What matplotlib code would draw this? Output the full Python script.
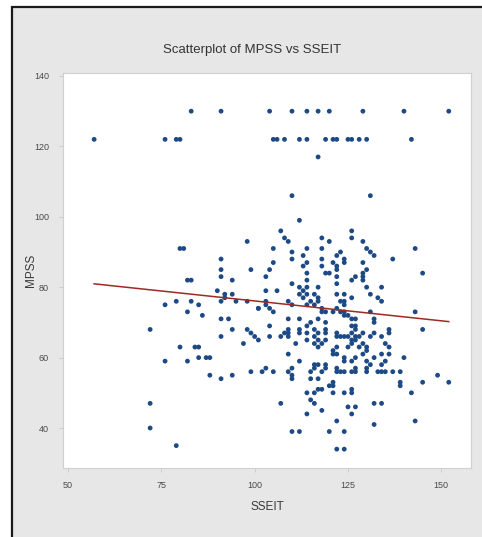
import matplotlib.pyplot as plt
from matplotlib.patches import Rectangle
import numpy as np

plt.rcParams['font.family'] = ['Liberation Sans', 'DejaVu Sans']

# SSEIT / MPSS pairs, grouped roughly by band of MPSS
sseit_top = [57, 76, 79, 80, 105, 106, 108, 112, 114, 119, 121, 122, 125, 126, 128, 130, 142,
             83, 91, 104, 110, 114, 117, 120, 129, 140, 152,
             117, 110, 131]
mpss_top = [122, 122, 122, 122, 122, 122, 122, 122, 122, 122, 122, 122, 122, 122, 122, 122, 122,
            130, 130, 130, 130, 130, 130, 130, 130, 130, 130,
            117, 106, 106]

sseit_upper = [112, 107, 126, 108, 109, 98, 80, 81, 91, 105, 110, 114, 118, 120, 118, 126, 129,
               130, 131, 132, 143, 137, 110, 113, 114, 113, 118, 118, 122, 123, 124, 124, 122,
               121, 122, 105, 91, 99, 129, 130, 145]
mpss_upper = [99, 96, 96, 94, 93, 93, 91, 91, 88, 91, 90, 91, 94, 93, 91, 94, 93,
              91, 90, 89, 91, 88, 88, 89, 87, 86, 88, 86, 89, 90, 88, 87, 86,
              87, 85, 87, 85, 85, 87, 85, 84]

sseit_mid = [91, 82, 83, 94, 104, 103, 114, 114, 119, 120, 122, 122, 126, 127, 129, 129, 129,
             130, 134, 131, 133, 134, 126, 90, 92, 94, 103, 106, 110, 112, 113, 114, 114,
             117, 116, 117, 117, 115, 112, 113, 114, 116, 122, 124, 123, 124, 109, 110, 91,
             92, 95, 98, 101, 103, 76, 79, 83, 85, 82, 86]
mpss_mid = [83, 82, 82, 82, 85, 83, 84, 82, 84, 84, 83, 81, 82, 83, 83, 84, 82,
            80, 80, 78, 77, 76, 77, 79, 78, 78, 79, 79, 81, 80, 79, 78, 80,
            80, 78, 77, 76, 76, 78, 77, 75, 75, 78, 78, 76, 76, 76, 75, 76,
            77, 76, 76, 74, 76, 75, 76, 76, 75, 73, 72]

sseit_low = [103, 104, 105, 101, 118, 119, 121, 122, 123, 124, 126, 127, 127, 126, 127, 131, 132,
             132, 136, 109, 112, 114, 115, 119, 119, 116, 117, 112, 112, 108, 109, 107, 104,
             104, 128, 126, 132, 134, 122, 124, 91, 93, 72, 94, 98, 99, 100, 101, 97,
             91, 143, 145, 124, 124, 125, 117, 118]
mpss_low = [75, 74, 73, 74, 74, 73, 73, 74, 73, 72, 71, 71, 69, 69, 68, 73, 71,
            70, 68, 71, 71, 69, 70, 70, 68, 68, 67, 68, 67, 67, 68, 66, 69,
            66, 66, 67, 67, 66, 66, 66, 71, 71, 68, 68, 68, 67, 66, 65, 64,
            66, 73, 68, 75, 73, 72, 71, 73]

sseit_lower = [109, 109, 114, 116, 117, 116, 118, 119, 122, 123, 125, 126, 129, 127, 129, 131, 136,
               136, 136, 111, 109, 112, 121, 122, 124, 127, 129, 130, 134, 134, 117, 128, 130,
               127, 114, 119, 122, 125, 126, 121, 124, 126, 130, 132, 135, 135, 140, 80, 84,
               85, 76, 82, 85, 87, 88]
mpss_lower = [67, 66, 67, 66, 65, 64, 64, 67, 67, 66, 66, 64, 64, 66, 67, 66, 67,
              63, 61, 64, 61, 59, 62, 61, 59, 60, 61, 59, 61, 58, 63, 63, 63,
              65, 65, 65, 63, 63, 65, 61, 60, 59, 62, 60, 59, 64, 60, 63, 63,
              63, 59, 59, 60, 60, 60]

sseit_bottom = [102, 105, 110, 110, 110, 115, 116, 116, 117, 118, 119, 119, 122, 123, 122, 124, 126,
                127, 127, 130, 130, 131, 133, 134, 135, 137, 139, 115, 117, 121, 139, 139, 142,
                145, 149, 152, 88, 91, 94, 99, 103, 114, 116, 117, 118, 120, 121, 121, 124,
                126, 126, 115, 109,
                72, 72, 79, 107, 114, 110, 112, 118, 122, 120, 124, 122, 124, 125, 127, 126,
                132, 132, 134, 143, 116]
mpss_bottom = [56, 56, 55, 54, 57, 56, 57, 58, 58, 56, 58, 57, 56, 56, 57, 56, 56,
               56, 57, 56, 57, 58, 56, 56, 56, 56, 56, 54, 54, 53, 53, 52, 50,
               53, 55, 53, 55, 54, 55, 56, 57, 50, 50, 51, 51, 52, 52, 50, 50,
               51, 50, 48, 56,
               47, 40, 35, 47, 44, 39, 39, 45, 42, 39, 39, 34, 34, 46, 46, 44,
               41, 47, 47, 42, 47]

sseit = np.array(sseit_top + sseit_upper + sseit_mid + sseit_low + sseit_lower + sseit_bottom)
mpss = np.array(mpss_top + mpss_upper + mpss_mid + mpss_low + mpss_lower + mpss_bottom)

# fitted line MPSS = a + b * SSEIT
fit_intercept = 87.4
fit_slope = -0.113

x_ticks = [50, 75, 100, 125, 150]
y_ticks = [40, 60, 80, 100, 120, 140]

fig = plt.figure(figsize=(4.82, 5.37), dpi=100)
fig.patch.set_facecolor('white')
# grey frame with a dark edge on the left and top
frame = Rectangle((11.5 / 482, -0.1), 1.2, 1.1 - 6.5 / 537,
                  transform=fig.transFigure, facecolor='#E7E7E7',
                  edgecolor='#1A1A1A', linewidth=1.6, zorder=-5)
fig.patches.append(frame)

ax = fig.add_axes([63 / 482, 1 - 468 / 537, 408 / 482, 395 / 537])
ax.set_zorder(5)
ax.set_facecolor('white')

ax.scatter(sseit, mpss, s=12, color='#1D4A85', edgecolors='none', zorder=3)

line_x = np.array([sseit.min(), sseit.max()])
ax.plot(line_x, fit_intercept + fit_slope * line_x, color='#9C2B24', linewidth=1.1, zorder=4)

ax.set_xlim(48.66, 157.96)
ax.set_ylim(28.64, 140.85)
ax.set_xticks(x_ticks)
ax.set_yticks(y_ticks)

for s in ax.spines.values():
    s.set_color('#D0D0D0')
    s.set_linewidth(0.8)
ax.tick_params(axis='both', colors='#C8C8C8', labelcolor='#4A4A4A', labelsize=6.5,
               length=3, width=0.6, direction='out')
ax.tick_params(axis='x', pad=6)
ax.tick_params(axis='y', pad=7)

ax.set_xlabel('SSEIT', fontsize=8.5, color='#3A3A3A', labelpad=8)
ax.set_ylabel('MPSS', fontsize=8.5, color='#3A3A3A')
ax.yaxis.set_label_coords(-0.064, 0.5)
fig.text(252 / 482, 1 - 50 / 537, 'Scatterplot of MPSS vs SSEIT', ha='center', va='center',
         fontsize=9.5, color='#333333')

fig.savefig('out.png', dpi=100)
